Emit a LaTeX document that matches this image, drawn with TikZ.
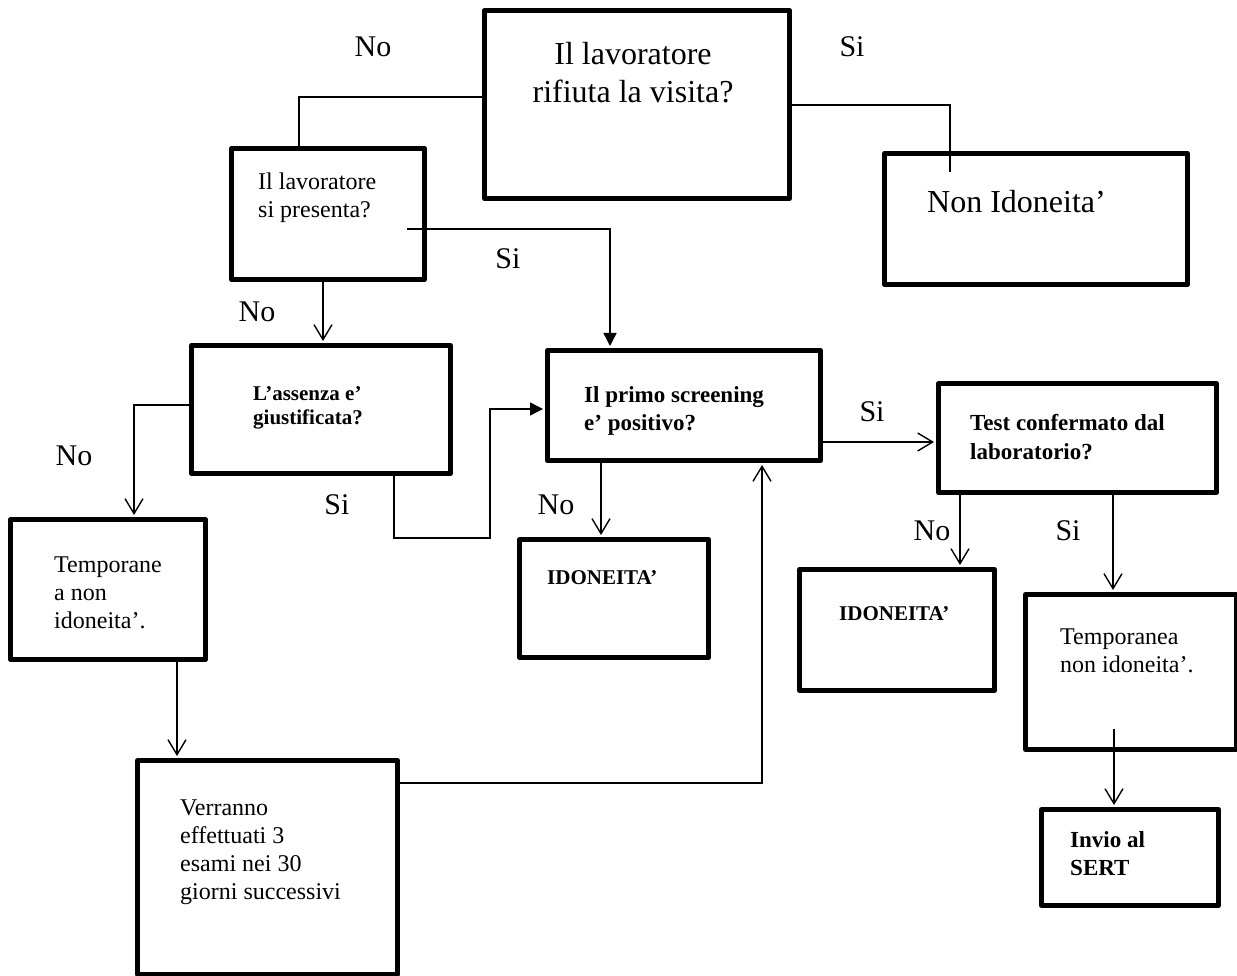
\documentclass[tikz,border=0pt]{standalone}
\usepackage{fontspec}
\setmainfont{Liberation Serif}
\usetikzlibrary{arrows.meta}

\newcommand\fz[2]{\fontsize{#1}{#2}\selectfont}
% flow box from its top-left (x1,y1) to its bottom-right (x2,y2)
\newcommand\flowbox[5]{%
  \node[flowrect, minimum width={#4-#2}, minimum height={#5-#3}] (#1) at (#2,#3) {};}

\begin{document}
\begin{tikzpicture}[x=1pt, y=-1pt,
  flowrect/.style={draw, line width=5pt, line join=round, inner sep=0pt, anchor=north west},
  txt/.style={inner sep=0pt, anchor=north west, align=left},
  plain/.style={font=\fz{24}{28}},
  strong/.style={font=\bfseries\fz{23}{28}},
  lbl/.style={inner sep=0pt, font=\fz{30}{36}},
  conn/.style={line width=1.4pt},
  openarrow/.style={conn, -{Straight Barb[length=15pt, width=18pt, line width=1.4pt]}, shorten >=2pt},
  fullarrow/.style={conn, -{Triangle[length=13pt, width=13pt]}, shorten >=2pt}]

\useasboundingbox (0,0) rectangle (1237,976);

% boxes
\flowbox{b1}{482}{8}{787}{196}
\flowbox{b2}{229}{146}{422}{277}
\flowbox{bN}{882}{151}{1185}{282}
\flowbox{b3}{189}{343}{448}{471}
\flowbox{b4}{545}{348}{818}{458}
\flowbox{b5}{8}{517}{203}{657}
\flowbox{bI1}{517}{537}{706}{655}
\flowbox{b6}{135}{758}{395}{972}
\flowbox{b7}{936}{381}{1214}{490}
\flowbox{bI2}{797}{567}{992}{688}
\flowbox{b8}{1023}{592}{1234}{747}
\flowbox{b9}{1039}{807}{1216}{903}

% box texts
\node[txt, anchor=north, align=center, font=\fz{32}{38}] (t1) at (633,42) {Il lavoratore\\rifiuta la visita?};
\node[inner sep=0pt, anchor=base west, font=\fz{32}{38}] (tN) at (927,213) {Non Idoneita’};
\node[txt, plain] (t2) at (258,173) {Il lavoratore\\si presenta?};
\node[txt, font=\bfseries\fz{21}{24}] (t3) at (253,386) {L’assenza e’\\giustificata?};
\node[txt, strong] (t4) at (584,386) {Il primo screening\\e’ positivo?};
\node[txt, strong, font=\bfseries\fz{23}{29}] (t7) at (970,414) {Test confermato dal\\laboratorio?};
\node[inner sep=0pt, anchor=base west, font=\bfseries\fz{21}{24}] (tI1) at (547,584) {IDONEITA’};
\node[inner sep=0pt, anchor=base west, font=\bfseries\fz{21}{24}] (tI2) at (839,620) {IDONEITA’};
\node[txt, plain] (t5) at (54,557) {Temporane\\a non\\idoneita’.};
\node[txt, plain] (t6) at (180,800) {Verranno\\effettuati 3\\esami nei 30\\giorni successivi};
\node[txt, plain] (t8) at (1060,629) {Temporanea\\non idoneita’.};
\node[txt, strong] (t9) at (1070,831) {Invio al\\SERT};

% answer labels
\node[lbl] (l1) at (373,47) {No};
\node[lbl] (l2) at (852,47) {Si};
\node[lbl] (l3) at (508,259) {Si};
\node[lbl] (l4) at (257,312) {No};
\node[lbl] (l5) at (74,456) {No};
\node[lbl] (l6) at (337,505) {Si};
\node[lbl] (l7) at (556,505) {No};
\node[lbl] (l8) at (872,412) {Si};
\node[lbl] (l9) at (932,531) {No};
\node[lbl] (l10) at (1068,531) {Si};

% free line ends inside boxes
\coordinate (eN) at (950,172);
\coordinate (s2) at (407,229);
\coordinate (s8) at (1114,729);

% connectors
\draw[conn] (b1.west |- 0,97) -| (b2.north -| 299,0);
\draw[conn] (b1.east |- 0,105) -| (eN);
\draw[fullarrow] (s2) -| (b4.north -| 610,0);
\draw[openarrow] (b2.south -| 323,0) -- (b3.north -| 323,0);
\draw[openarrow] (b3.west |- 0,405) -| (b5.north -| 134,0);
\draw[fullarrow] (b3.south -| 394,0) -- (394,538) -- (490,538) -- (490,409) -- (b4.west |- 0,409);
\draw[openarrow] (b4.south -| 601,0) -- (bI1.north -| 601,0);
\draw[openarrow] (b5.south -| 177,0) -- (b6.north -| 177,0);
\draw[openarrow] (b6.east |- 0,783) -| (b4.south -| 762,0);
\draw[openarrow] (b4.east |- 0,442) -- (b7.west |- 0,442);
\draw[openarrow] (b7.south -| 960,0) -- (bI2.north -| 960,0);
\draw[openarrow] (b7.south -| 1113,0) -- (b8.north -| 1113,0);
\draw[openarrow] (s8) -- (b9.north -| 1114,0);

\end{tikzpicture}
\end{document}
